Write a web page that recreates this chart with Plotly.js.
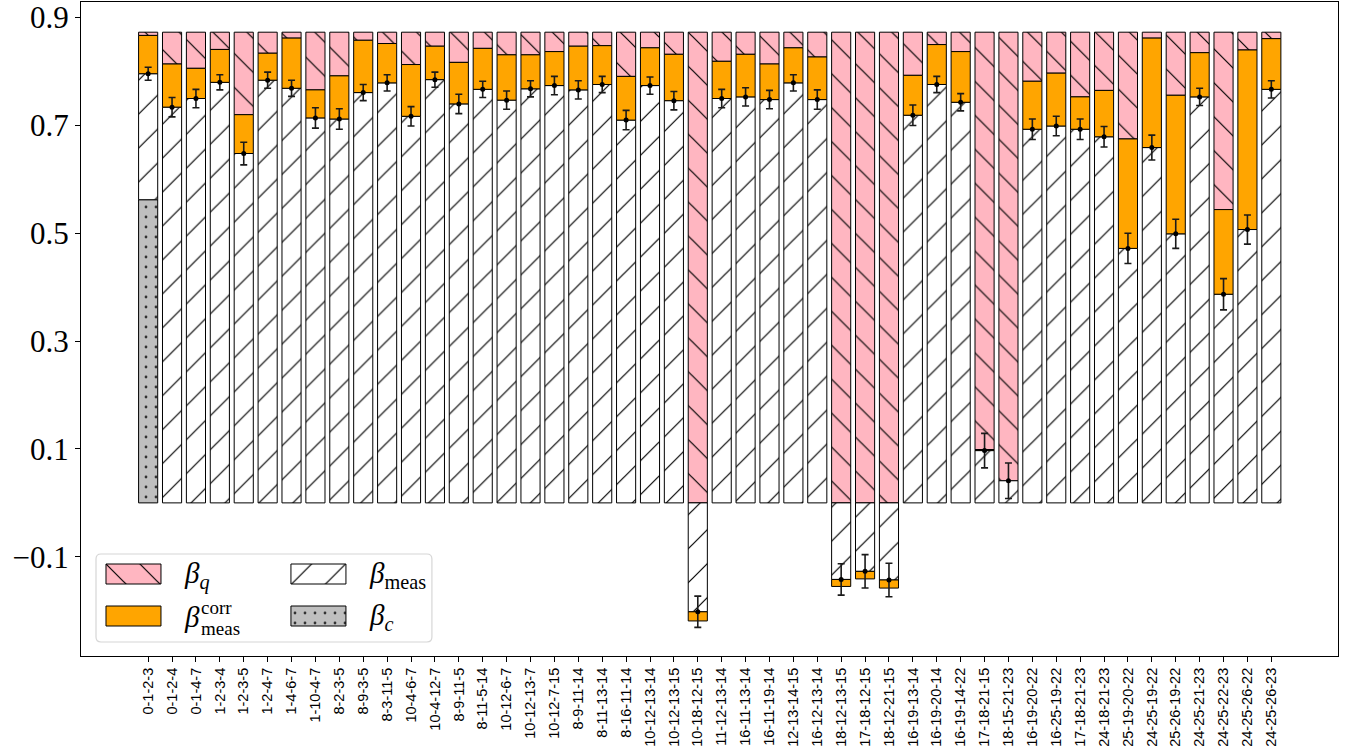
<!DOCTYPE html>
<html><head><meta charset="utf-8">
<script src="https://cdn.plot.ly/plotly-3.0.1.min.js"></script>
<style>html,body{margin:0;padding:0;background:#fff;}#chart{width:1356px;height:753px;}</style>
</head><body><div id="chart"></div>
<script>
const categories = ["0-1-2-3","0-1-2-4","0-1-4-7","1-2-3-4","1-2-3-5","1-2-4-7","1-4-6-7","1-10-4-7","8-2-3-5","8-9-3-5","8-3-11-5","10-4-6-7","10-4-12-7","8-9-11-5","8-11-5-14","10-12-6-7","10-12-13-7","10-12-7-15","8-9-11-14","8-11-13-14","8-16-11-14","10-12-13-14","10-12-13-15","10-18-12-15","11-12-13-14","16-11-13-14","16-11-19-14","12-13-14-15","16-12-13-14","18-12-13-15","17-18-12-15","18-12-21-15","16-19-13-14","16-19-20-14","16-19-14-22","17-18-21-15","18-15-21-23","16-19-20-22","16-25-19-22","17-18-21-23","24-18-21-23","25-19-20-22","24-25-19-22","25-26-19-22","24-25-21-23","24-25-22-23","24-25-26-22","24-25-26-23"];
const betaTotal = 0.873;
const betaC = [0.562];
const betaMeas = [0.796,0.734,0.750,0.780,0.648,0.784,0.769,0.714,0.712,0.761,0.779,0.717,0.785,0.740,0.767,0.747,0.768,0.774,0.766,0.776,0.710,0.774,0.746,-0.202,0.750,0.753,0.748,0.779,0.748,-0.142,-0.127,-0.143,0.719,0.776,0.743,0.097,0.041,0.693,0.699,0.693,0.679,0.472,0.659,0.499,0.753,0.387,0.507,0.767];
const betaCorr = [0.867,0.814,0.806,0.841,0.720,0.834,0.862,0.766,0.792,0.858,0.852,0.813,0.847,0.817,0.843,0.831,0.831,0.837,0.847,0.848,0.791,0.844,0.832,-0.219,0.819,0.832,0.814,0.844,0.827,-0.155,-0.141,-0.158,0.793,0.850,0.837,0.099,0.041,0.782,0.797,0.753,0.765,0.675,0.862,0.756,0.835,0.544,0.840,0.861];
const measErr = [0.012,0.018,0.017,0.014,0.021,0.015,0.015,0.019,0.019,0.015,0.015,0.018,0.014,0.018,0.015,0.017,0.015,0.017,0.017,0.015,0.018,0.016,0.017,0.029,0.017,0.017,0.017,0.015,0.018,0.029,0.031,0.031,0.019,0.015,0.016,0.032,0.033,0.019,0.018,0.019,0.019,0.028,0.023,0.027,0.016,0.029,0.027,0.016];

const PINK = '#ffb6c1', ORANGE = '#ffa500', GRAY = '#bfbfbf';
const edge = {color:'#000', width:1};
const hatchQ = {shape:'\\', fillmode:'overlay', fgcolor:'#000', fgopacity:1, size:24, solidity:0.05};
const hatchM = {shape:'/', fillmode:'overlay', fgcolor:'#000', fgopacity:1, size:24, solidity:0.05};
const dots = {shape:'.', fillmode:'overlay', fgcolor:'#333', fgopacity:1, size:10, solidity:0.06};

const cBase = categories.map((c,i)=> betaC[i] || 0);
const measH = betaMeas.map((v,i)=> v - cBase[i]);
const corrH = betaCorr.map((v,i)=> (v - betaMeas[i]) === 0 ? null : v - betaMeas[i]);
const qBase = betaCorr.map(v => v > 0 ? v : 0);
const qH = qBase.map(b => betaTotal - b);

const W = 0.8;
const traces = [
  {type:'bar', name:'β_q', x:categories, y:qH, base:qBase, width:W,
   marker:{color:PINK, line:edge, pattern:hatchQ}, showlegend:false, hoverinfo:'skip'},
  {type:'bar', name:'β_meas', x:categories, y:measH, base:cBase, width:W,
   marker:{color:'#fff', line:edge, pattern:hatchM}, showlegend:false, hoverinfo:'skip'},
  {type:'bar', name:'β_c', x:categories.slice(0,betaC.length), y:betaC, base:0, width:W,
   marker:{color:GRAY, line:edge, pattern:dots}, showlegend:false, hoverinfo:'skip'},
  {type:'bar', name:'β_meas^corr', x:categories, y:corrH, base:betaMeas, width:W,
   marker:{color:ORANGE, line:edge}, showlegend:false, hoverinfo:'skip'},
  {type:'scatter', mode:'markers', x:categories, y:betaMeas,
   marker:{color:'#000', size:5},
   error_y:{type:'data', array:measErr, color:'#1a1a1a', thickness:1.6, width:3.5},
   showlegend:false, hoverinfo:'skip'}
];

// custom legend swatches (helper subplot in local pixel units of the legend box)
const legendItems = [
  {pattern:hatchQ, color:PINK, col:0, row:0},
  {pattern:null, color:ORANGE, col:0, row:1},
  {pattern:hatchM, color:'#fff', col:1, row:0},
  {pattern:dots, color:GRAY, col:1, row:1}
];
legendItems.forEach(it=>{
  const x0 = 10 + it.col*185, y0 = 10 + it.row*42;
  const mk = {color:it.color, line:edge};
  if (it.pattern) mk.pattern = it.pattern;
  traces.push({type:'bar', xaxis:'x2', yaxis:'y2', x:[x0+27.5], width:[55], base:[y0], y:[20],
    marker:mk, showlegend:false, hoverinfo:'skip'});
});
// legend-box local px -> paper coords
const PX0 = 81, PW = 1257.3, PY1 = 656, PH = 654, BX = 96, BY = 554;
const px = lx => (BX + lx - PX0) / PW;
const py = ly => (PY1 - (BY + ly)) / PH;
const tf = {family:'Liberation Serif, DejaVu Serif, serif', size:29, color:'#000'};
const sf = {family:'Liberation Serif, DejaVu Serif, serif', size:19, color:'#000'};
const ann = (lx, ly, text, font) => ({xref:'paper', yref:'paper', x:px(lx), y:py(ly), text, showarrow:false, xanchor:'left', yanchor:'middle', font});
const annotations = [
  ann(86, 21, '<i>β</i><sub><i>q</i></sub>', tf),
  ann(271, 21, '<i>β</i><sub>meas</sub>', tf),
  ann(271, 63, '<i>β</i><sub><i>c</i></sub>', tf),
  ann(86, 63, '<i>β</i>', tf),
  ann(103, 53, 'corr', sf),
  ann(103, 74, 'meas', sf)
];
const r = 5, bw = 336, bh = 88;
const boxPath = `M${r},0 L${bw-r},0 Q${bw},0 ${bw},${r} L${bw},${bh-r} Q${bw},${bh} ${bw-r},${bh} L${r},${bh} Q0,${bh} 0,${bh-r} L0,${r} Q0,0 ${r},0 Z`;

const layout = {
  width:1356, height:753,
  margin:{l:81, r:18, t:2, b:97},
  paper_bgcolor:'#fff', plot_bgcolor:'#fff',
  barmode:'overlay',
  showlegend:false,
  xaxis:{type:'category', range:[-2.81, 49.79], tickangle:-90, ticks:'outside', ticklen:5, tickcolor:'#000',
    tickfont:{family:'Liberation Sans, Arial, sans-serif', size:14.5, color:'#000'},
    showgrid:false, zeroline:false, showline:true, linecolor:'#000', linewidth:1, mirror:true, automargin:false},
  yaxis:{range:[-0.284, 0.929], tickvals:[-0.1,0.1,0.3,0.5,0.7,0.9], tickformat:'.1f', ticks:'outside', ticklen:5, tickcolor:'#000',
    tickfont:{family:'Liberation Serif, DejaVu Serif, serif', size:31, color:'#000'},
    showgrid:false, zeroline:false, showline:true, linecolor:'#000', linewidth:1, mirror:true, automargin:false},
  xaxis2:{domain:[(90-81)/1257.3, (440-81)/1257.3], range:[-6,344], anchor:'y2', visible:false, fixedrange:true},
  yaxis2:{domain:[(656-648)/654, (656-548)/654], range:[94,-6], anchor:'x2', visible:false, fixedrange:true},
  shapes:[{type:'path', xref:'x2', yref:'y2', path:boxPath, fillcolor:'rgba(255,255,255,0.9)', line:{color:'#d6d6d6', width:1.2}, layer:'below'}],
  annotations:annotations
};
Plotly.newPlot('chart', traces, layout, {staticPlot:true, displayModeBar:false});
</script></body></html>
